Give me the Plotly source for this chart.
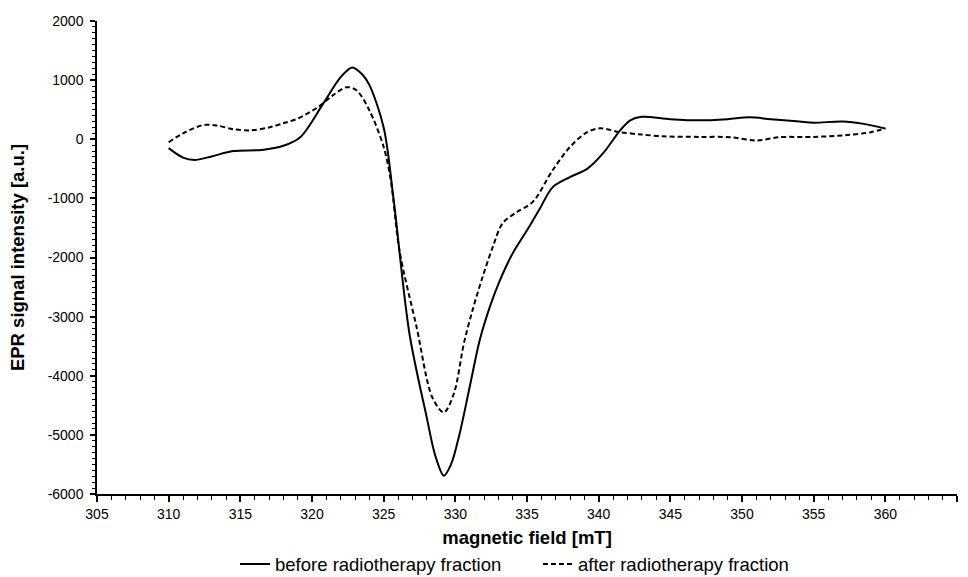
import plotly.graph_objects as go

# before radiotherapy fraction (solid)
field_before = [310, 311, 311.8, 313, 314.5, 316.5, 318, 319.2, 320.8, 322, 322.8, 323.5, 324, 325,
                325.7, 326.8, 328, 328.6, 329.2, 329.7, 330.3, 331, 331.7, 332.4, 333.1, 334, 335, 335.9,
                336.8, 338, 339.2, 340.3, 341.5, 342.2, 343, 345, 347, 349, 350.5, 352, 354, 355, 357,
                358.5, 360]
signal_before = [-150, -310, -350, -290, -200, -180, -110, 40, 610, 1050, 1215, 1100, 920, 200,
                 -1030, -3290, -4700, -5350, -5690, -5500, -4980, -4190, -3400, -2840, -2390, -1930, -1540, -1170,
                 -810, -640, -500, -240, 150, 320, 380, 340, 320, 340, 370, 340, 300, 280, 300,
                 260, 180]

# after radiotherapy fraction (dashed)
field_after = [310, 311, 312.4, 313.4, 314.5, 315.7, 317, 318, 319, 320.4, 321.5, 322.4, 323.1, 324, 325,
               325.5, 326.1, 327.3, 328.4, 329.2, 329.9, 330.6, 331.2, 331.9, 332.6, 333.3, 334.3, 335.4,
               336.8, 338, 339.2, 340.1, 341.5, 343, 344.5, 347, 349.2, 351, 352.6, 355, 357.3, 359, 360]
signal_after = [-50, 100, 240, 230, 170, 150, 200, 270, 350, 540, 750, 880, 830, 490, -130,
                -700, -1880, -3180, -4370, -4620, -4300, -3450, -2890, -2330, -1830, -1420, -1230, -1060,
                -520, -130, 120, 185, 120, 80, 50, 40, 35, -20, 35, 40, 70, 120, 185]

y_tick_vals = [2000, 1000, 0, -1000, -2000, -3000, -4000, -5000, -6000]
y_tick_text = ["2000", "1000", "0", "-1000", "-2000", "-3000", "-4000", "-5000", "-6000"]

fig = go.Figure()
fig.add_trace(go.Scatter(x=field_before, y=signal_before, mode="lines",
                         name="before radiotherapy fraction",
                         line=dict(color="black", width=2, shape="spline", smoothing=0.9)))
fig.add_trace(go.Scatter(x=field_after, y=signal_after, mode="lines",
                         name="after radiotherapy fraction",
                         line=dict(color="black", width=2, dash="5px,3px", shape="spline", smoothing=0.9)))

fig.update_layout(
    width=968, height=577,
    margin=dict(l=97, r=11, t=21, b=83, autoexpand=False),
    paper_bgcolor="white", plot_bgcolor="white",
    font=dict(family="Liberation Sans, Arial, sans-serif", color="black", size=14),
    legend=dict(orientation="h", x=0.1605, xanchor="left", y=-0.109, yanchor="top",
                font=dict(size=18.5), itemwidth=30, tracegroupgap=0, entrywidth=258),
    showlegend=True,
)
fig.update_xaxes(
    range=[305, 365], dtick=5, tick0=305, showgrid=False, zeroline=False,
    showline=True, linecolor="black", linewidth=1.5,
    ticks="outside", ticklen=6, tickwidth=1.5, tickcolor="black",
    tickfont=dict(size=14),
    minor=dict(dtick=1, ticks="outside", ticklen=4, tickwidth=1.2, tickcolor="black", showgrid=False),
    title=dict(text="<b>magnetic field [mT]</b>", font=dict(size=18.5), standoff=11),
)
fig.update_yaxes(
    range=[-6000, 2000], tickvals=y_tick_vals, ticktext=y_tick_text,
    showgrid=False, zeroline=False,
    showline=True, linecolor="black", linewidth=1.5,
    ticks="outside", ticklen=5, tickwidth=1.5, tickcolor="black",
    tickfont=dict(size=14), ticklabelstandoff=4,
    minor=dict(dtick=100, tick0=0, ticks="outside", ticklen=3, tickwidth=1, tickcolor="black", showgrid=False),
    title=dict(text="<b>EPR signal intensity [a.u.]</b>", font=dict(size=18.5), standoff=18),
)

fig.write_html("out.html", config={"displayModeBar": False},
               post_script="document.body.style.margin='0';document.body.style.overflow='hidden';")
